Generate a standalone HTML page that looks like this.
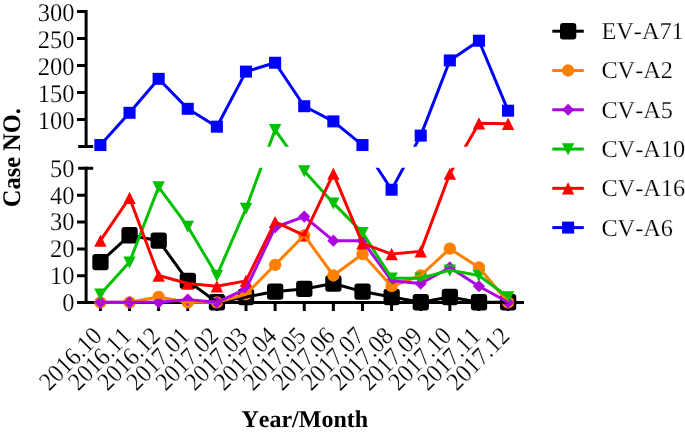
<!DOCTYPE html>
<html lang="en"><head><meta charset="utf-8"><title>Case NO. by Year/Month</title>
<style>
html,body{margin:0;padding:0;background:#fff}
body{width:685px;height:435px;overflow:hidden}
svg{display:block}
text{font-family:"Liberation Serif","Times New Roman",serif;font-size:24px;fill:#000;font-kerning:none;text-rendering:geometricPrecision;stroke:#fff;stroke-width:.2px}
.b{stroke:none}
.b{font-weight:bold}
</style></head><body>
<svg width="685" height="435" viewBox="0 0 685 435">
<defs><clipPath id="c"><rect x="0" y="0" width="685" height="146.8"/><rect x="0" y="167.8" width="685" height="270"/></clipPath></defs>
<rect width="685" height="435" fill="#fff"/>
<g stroke="#000" stroke-width="3" fill="none">
<path d="M86.1 10V148M86.1 166.8V304"/>
<path d="M84.6 302.5H524"/>
<path d="M77 11.5H86.1M77 38.5H86.1M77 65.5H86.1M77 92.5H86.1M77 119.5H86.1M78.2 146.5H93.2M78.2 168.3H93.2M77 195.3H86.1M77 222.1H86.1M77 248.9H86.1M77 275.7H86.1M77 302.5H86.1"/>
<path d="M100.4 302.5V311M129.52 302.5V311M158.64 302.5V311M187.76 302.5V311M216.88 302.5V311M246 302.5V311M275.12 302.5V311M304.24 302.5V311M333.36 302.5V311M362.48 302.5V311M391.6 302.5V311M420.72 302.5V311M449.84 302.5V311M478.96 302.5V311M508.08 302.5V311"/>
</g>
<g text-anchor="end">
<text text-anchor="end" style="font-size:24.5px" transform="translate(74.6 20.7) scale(1 1.04)">300</text>
<text text-anchor="end" style="font-size:24.5px" transform="translate(74.6 47.7) scale(1 1.04)">250</text>
<text text-anchor="end" style="font-size:24.5px" transform="translate(74.6 74.7) scale(1 1.04)">200</text>
<text text-anchor="end" style="font-size:24.5px" transform="translate(74.6 101.7) scale(1 1.04)">150</text>
<text text-anchor="end" style="font-size:24.5px" transform="translate(74.6 128.7) scale(1 1.04)">100</text>
<text text-anchor="end" style="font-size:24.5px" transform="translate(74.6 176.8) scale(1 1.04)">50</text>
<text text-anchor="end" style="font-size:24.5px" transform="translate(74.6 203.6) scale(1 1.04)">40</text>
<text text-anchor="end" style="font-size:24.5px" transform="translate(74.6 230.4) scale(1 1.04)">30</text>
<text text-anchor="end" style="font-size:24.5px" transform="translate(74.6 257.2) scale(1 1.04)">20</text>
<text text-anchor="end" style="font-size:24.5px" transform="translate(74.6 284) scale(1 1.04)">10</text>
<text text-anchor="end" style="font-size:24.5px" transform="translate(74.6 310.8) scale(1 1.04)">0</text>
</g>
<g text-anchor="end">
<text text-anchor="end" style="font-size:23.6px" transform="translate(103.4 337.5) rotate(-45) scale(1 1.08)">2016.10</text>
<text text-anchor="end" style="font-size:23.6px" transform="translate(132.52 337.5) rotate(-45) scale(1 1.08)">2016.11</text>
<text text-anchor="end" style="font-size:23.6px" transform="translate(161.64 337.5) rotate(-45) scale(1 1.08)">2016.12</text>
<text text-anchor="end" style="font-size:23.6px" transform="translate(190.76 337.5) rotate(-45) scale(1 1.08)">2017.01</text>
<text text-anchor="end" style="font-size:23.6px" transform="translate(219.88 337.5) rotate(-45) scale(1 1.08)">2017.02</text>
<text text-anchor="end" style="font-size:23.6px" transform="translate(249 337.5) rotate(-45) scale(1 1.08)">2017.03</text>
<text text-anchor="end" style="font-size:23.6px" transform="translate(278.12 337.5) rotate(-45) scale(1 1.08)">2017.04</text>
<text text-anchor="end" style="font-size:23.6px" transform="translate(307.24 337.5) rotate(-45) scale(1 1.08)">2017.05</text>
<text text-anchor="end" style="font-size:23.6px" transform="translate(336.36 337.5) rotate(-45) scale(1 1.08)">2017.06</text>
<text text-anchor="end" style="font-size:23.6px" transform="translate(365.48 337.5) rotate(-45) scale(1 1.08)">2017.07</text>
<text text-anchor="end" style="font-size:23.6px" transform="translate(394.6 337.5) rotate(-45) scale(1 1.08)">2017.08</text>
<text text-anchor="end" style="font-size:23.6px" transform="translate(423.72 337.5) rotate(-45) scale(1 1.08)">2017.09</text>
<text text-anchor="end" style="font-size:23.6px" transform="translate(452.84 337.5) rotate(-45) scale(1 1.08)">2017.10</text>
<text text-anchor="end" style="font-size:23.6px" transform="translate(481.96 337.5) rotate(-45) scale(1 1.08)">2017.11</text>
<text text-anchor="end" style="font-size:23.6px" transform="translate(511.08 337.5) rotate(-45) scale(1 1.08)">2017.12</text>
</g>
<text class="b" text-anchor="middle" style="font-size:24.4px" transform="translate(20.3 157.7) rotate(-90) scale(1 1.04)">Case NO.</text>
<text class="b" text-anchor="middle" transform="translate(304.8 427)">Year/Month</text>
<g>
<rect x="92.3" y="253.9" width="16.3" height="16.4" rx="3" fill="#000000"/><rect x="121.42" y="227.1" width="16.3" height="16.4" rx="3" fill="#000000"/><rect x="150.54" y="232.46" width="16.3" height="16.4" rx="3" fill="#000000"/><rect x="179.66" y="272.66" width="16.3" height="16.4" rx="3" fill="#000000"/><rect x="208.78" y="294.1" width="16.3" height="16.4" rx="3" fill="#000000"/><rect x="237.9" y="288.74" width="16.3" height="16.4" rx="3" fill="#000000"/><rect x="267.02" y="283.38" width="16.3" height="16.4" rx="3" fill="#000000"/><rect x="296.14" y="280.7" width="16.3" height="16.4" rx="3" fill="#000000"/><rect x="325.26" y="275.34" width="16.3" height="16.4" rx="3" fill="#000000"/><rect x="354.38" y="283.38" width="16.3" height="16.4" rx="3" fill="#000000"/><rect x="383.5" y="288.74" width="16.3" height="16.4" rx="3" fill="#000000"/><rect x="412.62" y="294.1" width="16.3" height="16.4" rx="3" fill="#000000"/><rect x="441.74" y="288.74" width="16.3" height="16.4" rx="3" fill="#000000"/><rect x="470.86" y="294.1" width="16.3" height="16.4" rx="3" fill="#000000"/><rect x="499.98" y="294.1" width="16.3" height="16.4" rx="3" fill="#000000"/>
<circle cx="100.4" cy="302.3" r="6.15" fill="#FF8000"/><circle cx="129.52" cy="302.3" r="6.15" fill="#FF8000"/><circle cx="158.64" cy="296.94" r="6.15" fill="#FF8000"/><circle cx="187.76" cy="302.3" r="6.15" fill="#FF8000"/><circle cx="216.88" cy="302.3" r="6.15" fill="#FF8000"/><circle cx="246" cy="294.26" r="6.15" fill="#FF8000"/><circle cx="275.12" cy="264.78" r="6.15" fill="#FF8000"/><circle cx="304.24" cy="235.3" r="6.15" fill="#FF8000"/><circle cx="333.36" cy="275.5" r="6.15" fill="#FF8000"/><circle cx="362.48" cy="254.06" r="6.15" fill="#FF8000"/><circle cx="391.6" cy="286.22" r="6.15" fill="#FF8000"/><circle cx="420.72" cy="275.5" r="6.15" fill="#FF8000"/><circle cx="449.84" cy="248.7" r="6.15" fill="#FF8000"/><circle cx="478.96" cy="267.46" r="6.15" fill="#FF8000"/><circle cx="508.08" cy="302.3" r="6.15" fill="#FF8000"/>
<path d="M100.4 296.2L106.5 302.3L100.4 308.4L94.3 302.3Z" fill="#AC07E0"/><path d="M129.52 296.2L135.62 302.3L129.52 308.4L123.42 302.3Z" fill="#AC07E0"/><path d="M158.64 296.2L164.74 302.3L158.64 308.4L152.54 302.3Z" fill="#AC07E0"/><path d="M187.76 293.52L193.86 299.62L187.76 305.72L181.66 299.62Z" fill="#AC07E0"/><path d="M216.88 296.2L222.98 302.3L216.88 308.4L210.78 302.3Z" fill="#AC07E0"/><path d="M246 282.8L252.1 288.9L246 295L239.9 288.9Z" fill="#AC07E0"/><path d="M275.12 221.16L281.22 227.26L275.12 233.36L269.02 227.26Z" fill="#AC07E0"/><path d="M304.24 210.44L310.34 216.54L304.24 222.64L298.14 216.54Z" fill="#AC07E0"/><path d="M333.36 234.56L339.46 240.66L333.36 246.76L327.26 240.66Z" fill="#AC07E0"/><path d="M362.48 234.56L368.58 240.66L362.48 246.76L356.38 240.66Z" fill="#AC07E0"/><path d="M391.6 274.76L397.7 280.86L391.6 286.96L385.5 280.86Z" fill="#AC07E0"/><path d="M420.72 277.44L426.82 283.54L420.72 289.64L414.62 283.54Z" fill="#AC07E0"/><path d="M449.84 261.36L455.94 267.46L449.84 273.56L443.74 267.46Z" fill="#AC07E0"/><path d="M478.96 280.12L485.06 286.22L478.96 292.32L472.86 286.22Z" fill="#AC07E0"/><path d="M508.08 296.2L514.18 302.3L508.08 308.4L501.98 302.3Z" fill="#AC07E0"/>
<path d="M94.2 288.56L106.6 288.56L100.4 300.56Z" fill="#00C000"/><path d="M123.32 256.4L135.72 256.4L129.52 268.4Z" fill="#00C000"/><path d="M152.44 181.36L164.84 181.36L158.64 193.36Z" fill="#00C000"/><path d="M181.56 220.76L193.96 220.76L187.76 232.76Z" fill="#00C000"/><path d="M210.68 269.8L223.08 269.8L216.88 281.8Z" fill="#00C000"/><path d="M239.8 202.8L252.2 202.8L246 214.8Z" fill="#00C000"/><path d="M268.92 124.06L281.32 124.06L275.12 136.06Z" fill="#00C000"/><path d="M298.04 165.28L310.44 165.28L304.24 177.28Z" fill="#00C000"/><path d="M327.16 197.44L339.56 197.44L333.36 209.44Z" fill="#00C000"/><path d="M356.28 226.92L368.68 226.92L362.48 238.92Z" fill="#00C000"/><path d="M385.4 272.48L397.8 272.48L391.6 284.48Z" fill="#00C000"/><path d="M414.52 272.48L426.92 272.48L420.72 284.48Z" fill="#00C000"/><path d="M443.64 264.44L456.04 264.44L449.84 276.44Z" fill="#00C000"/><path d="M472.76 269.8L485.16 269.8L478.96 281.8Z" fill="#00C000"/><path d="M501.88 291.24L514.28 291.24L508.08 303.24Z" fill="#00C000"/>
<path d="M94.2 246.86L106.6 246.86L100.4 234.66Z" fill="#FF0000"/><path d="M123.32 203.98L135.72 203.98L129.52 191.78Z" fill="#FF0000"/><path d="M152.44 281.7L164.84 281.7L158.64 269.5Z" fill="#FF0000"/><path d="M181.56 289.74L193.96 289.74L187.76 277.54Z" fill="#FF0000"/><path d="M210.68 292.42L223.08 292.42L216.88 280.22Z" fill="#FF0000"/><path d="M239.8 287.06L252.2 287.06L246 274.86Z" fill="#FF0000"/><path d="M268.92 228.1L281.32 228.1L275.12 215.9Z" fill="#FF0000"/><path d="M298.04 241.5L310.44 241.5L304.24 229.3Z" fill="#FF0000"/><path d="M327.16 179.86L339.56 179.86L333.36 167.66Z" fill="#FF0000"/><path d="M356.28 249.54L368.68 249.54L362.48 237.34Z" fill="#FF0000"/><path d="M385.4 260.26L397.8 260.26L391.6 248.06Z" fill="#FF0000"/><path d="M414.52 257.58L426.92 257.58L420.72 245.38Z" fill="#FF0000"/><path d="M443.64 179.86L456.04 179.86L449.84 167.66Z" fill="#FF0000"/><path d="M472.76 129.48L485.16 129.48L478.96 117.28Z" fill="#FF0000"/><path d="M501.88 130.02L514.28 130.02L508.08 117.82Z" fill="#FF0000"/>
<rect x="94.35" y="139.04" width="12.1" height="12" fill="#0000FF"/><rect x="123.47" y="106.8" width="12.1" height="12" fill="#0000FF"/><rect x="152.59" y="72.84" width="12.1" height="12" fill="#0000FF"/><rect x="181.71" y="102.81" width="12.1" height="12" fill="#0000FF"/><rect x="210.83" y="120.68" width="12.1" height="12" fill="#0000FF"/><rect x="239.95" y="65.6" width="12.1" height="12" fill="#0000FF"/><rect x="269.07" y="56.75" width="12.1" height="12" fill="#0000FF"/><rect x="298.19" y="100.22" width="12.1" height="12" fill="#0000FF"/><rect x="327.31" y="115.39" width="12.1" height="12" fill="#0000FF"/><rect x="356.43" y="139.04" width="12.1" height="12" fill="#0000FF"/><rect x="385.55" y="183.74" width="12.1" height="12" fill="#0000FF"/><rect x="414.67" y="129.59" width="12.1" height="12" fill="#0000FF"/><rect x="443.79" y="54.42" width="12.1" height="12" fill="#0000FF"/><rect x="472.91" y="34.71" width="12.1" height="12" fill="#0000FF"/><rect x="502.03" y="104.7" width="12.1" height="12" fill="#0000FF"/>
</g>
<g clip-path="url(#c)" fill="none" stroke-width="3" stroke-linejoin="round">
<polyline stroke="#000000" points="100.4,262.1 129.52,235.3 158.64,240.66 187.76,280.86 216.88,302.3 246,296.94 275.12,291.58 304.24,288.9 333.36,283.54 362.48,291.58 391.6,296.94 420.72,302.3 449.84,296.94 478.96,302.3 508.08,302.3"/>
<polyline stroke="#FF8000" points="100.4,302.3 129.52,302.3 158.64,296.94 187.76,302.3 216.88,302.3 246,294.26 275.12,264.78 304.24,235.3 333.36,275.5 362.48,254.06 391.6,286.22 420.72,275.5 449.84,248.7 478.96,267.46 508.08,302.3"/>
<polyline stroke="#AC07E0" points="100.4,302.3 129.52,302.3 158.64,302.3 187.76,299.62 216.88,302.3 246,288.9 275.12,227.26 304.24,216.54 333.36,240.66 362.48,240.66 391.6,280.86 420.72,283.54 449.84,267.46 478.96,286.22 508.08,302.3"/>
<polyline stroke="#00C000" points="100.4,294.26 129.52,262.1 158.64,187.06 187.76,226.46 216.88,275.5 246,208.5 275.12,129.76 304.24,170.98 333.36,203.14 362.48,232.62 391.6,278.18 420.72,278.18 449.84,270.14 478.96,275.5 508.08,296.94"/>
<polyline stroke="#FF0000" points="100.4,240.66 129.52,197.78 158.64,275.5 187.76,283.54 216.88,286.22 246,280.86 275.12,221.9 304.24,235.3 333.36,173.66 362.48,243.34 391.6,254.06 420.72,251.38 449.84,173.66 478.96,123.28 508.08,123.82"/>
<polyline stroke="#0000FF" points="100.4,145.04 129.52,112.8 158.64,78.84 187.76,108.81 216.88,126.68 246,71.6 275.12,62.75 304.24,106.22 333.36,121.39 362.48,145.04 391.6,189.74 420.72,135.59 449.84,60.42 478.96,40.71 508.08,110.7"/>
</g>
<path d="M552.3 31.2H583.8" stroke="#000000" stroke-width="3"/><rect x="560" y="23" width="16.3" height="16.4" rx="3" fill="#000000"/><text style="font-size:24.3px" transform="translate(601.4 39.2)">EV-A71</text>
<path d="M552.3 70.48H583.8" stroke="#FF8000" stroke-width="3"/><circle cx="568.1" cy="70.48" r="6.15" fill="#FF8000"/><text style="font-size:24.3px" transform="translate(601.4 78.48)">CV-A2</text>
<path d="M552.3 109.76H583.8" stroke="#AC07E0" stroke-width="3"/><path d="M568.1 103.66L574.2 109.76L568.1 115.86L562 109.76Z" fill="#AC07E0"/><text style="font-size:24.3px" transform="translate(601.4 117.76)">CV-A5</text>
<path d="M552.3 149.04H583.8" stroke="#00C000" stroke-width="3"/><path d="M561.9 143.34L574.3 143.34L568.1 155.34Z" fill="#00C000"/><text style="font-size:24.3px" transform="translate(601.4 157.04)">CV-A10</text>
<path d="M552.3 188.32H583.8" stroke="#FF0000" stroke-width="3"/><path d="M561.9 194.52L574.3 194.52L568.1 182.32Z" fill="#FF0000"/><text style="font-size:24.3px" transform="translate(601.4 196.32)">CV-A16</text>
<path d="M552.3 227.6H583.8" stroke="#0000FF" stroke-width="3"/><rect x="562.05" y="221.6" width="12.1" height="12" fill="#0000FF"/><text style="font-size:24.3px" transform="translate(601.4 235.6)">CV-A6</text>
</svg></body></html>
